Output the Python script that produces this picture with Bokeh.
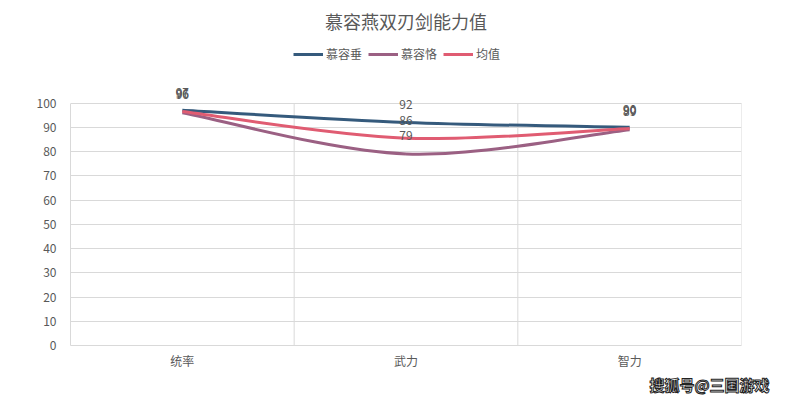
from bokeh.plotting import figure
from bokeh.models import Legend, LegendItem, FixedTicker, Range1d, Title, ColumnDataSource
from bokeh.core.properties import value
from bokeh.embed import file_html
from bokeh.resources import INLINE

categories = ["统率", "武力", "智力"]
series_names = ["慕容垂", "慕容恪", "均值"]
murong_chui = [97, 92, 90]
murong_ke = [96, 79, 89]
average = [96.5, 85.5, 89.5]
avg_labels = ["96", "86", "90"]
y_ticks = [0, 10, 20, 30, 40, 50, 60, 70, 80, 90, 100]

colors = ["#355a7c", "#9b6083", "#e05c72"]
FONT = "Noto Sans CJK SC"
GREY = "#595959"
LINE = "#d9d9d9"

xs = list(range(len(categories)))
y_max = max(y_ticks)

p = figure(width=785, height=399, output_backend="svg", toolbar_location=None,
           x_range=Range1d(-0.5, len(categories) - 0.5), y_range=Range1d(0, y_max * 1.266),
           min_border_left=70, min_border_right=44, min_border_bottom=54, min_border_top=36)

p.title.text = "慕容燕双刃剑能力值"
p.title.align = "center"
p.title.text_font = FONT
p.title.text_font_size = "18px"
p.title.text_font_style = "normal"
p.title.text_color = GREY

p.outline_line_color = None
p.background_fill_color = "white"
p.border_fill_color = "white"

p.xaxis.ticker = FixedTicker(ticks=xs)
p.xaxis.major_label_overrides = {i: c for i, c in enumerate(categories)}
p.yaxis.ticker = FixedTicker(ticks=y_ticks)
p.yaxis.bounds = (0, y_max)
for ax in (p.xaxis, p.yaxis):
    ax.axis_line_color = LINE
    ax.major_tick_line_color = None
    ax.minor_tick_line_color = None
    ax.major_label_text_font = FONT
    ax.major_label_text_font_size = "12px"
    ax.major_label_text_color = GREY
p.xaxis.major_label_standoff = 0
p.yaxis.major_label_standoff = 8

p.xgrid.grid_line_color = None
p.ygrid.ticker = FixedTicker(ticks=y_ticks)
p.ygrid.grid_line_color = LINE

# category boundary lines (vertical gridlines limited to the value range)
bounds_x = [i + 0.5 for i in xs]
p.segment(x0=bounds_x, x1=bounds_x, y0=[0] * len(bounds_x), y1=[y_max] * len(bounds_x),
          line_color=LINE, line_width=1)


def bezier_segments(x, y):
    n = len(x)
    px = [x[0]] + list(x) + [x[-1]]
    py = [y[0]] + list(y) + [y[-1]]
    d = dict(x0=[], y0=[], x1=[], y1=[], cx0=[], cy0=[], cx1=[], cy1=[])
    for i in range(n - 1):
        a, b, c, e = i, i + 1, i + 2, i + 3
        d["x0"].append(px[b]); d["y0"].append(py[b])
        d["x1"].append(px[c]); d["y1"].append(py[c])
        d["cx0"].append(px[b] + (px[c] - px[a]) / 6)
        d["cy0"].append(py[b] + (py[c] - py[a]) / 6)
        d["cx1"].append(px[c] - (px[e] - px[b]) / 6)
        d["cy1"].append(py[c] - (py[e] - py[b]) / 6)
    return ColumnDataSource(d)


items = []
all_series = [murong_chui, murong_ke, average]
label_texts = [[str(v) for v in murong_chui], [str(v) for v in murong_ke], avg_labels]
for name, vals, col in zip(series_names, all_series, colors):
    src = bezier_segments(xs, vals)
    r = p.bezier(x0="x0", y0="y0", x1="x1", y1="y1", cx0="cx0", cy0="cy0",
                 cx1="cx1", cy1="cy1", source=src, line_color=col, line_width=3)
    items.append(LegendItem(label=name, renderers=[r]))

for vals, texts in zip(all_series, label_texts):
    p.text(x=xs, y=vals, text=texts, text_align="center", text_baseline="middle",
           y_offset=-18, text_font=value(FONT), text_font_size="12px",
           text_color=GREY)

legend = Legend(items=items, orientation="horizontal", location=(223, 283),
                label_text_font=FONT, label_text_font_size="12px", label_text_color=GREY,
                glyph_width=30, glyph_height=12, label_standoff=3, spacing=6,
                padding=0, margin=0, border_line_color=None, background_fill_alpha=0)
p.add_layout(legend)

wm = Title(text="搜狐号@三国游戏", align="right", offset=-28, standoff=0,
           text_font=FONT, text_font_size="15px", text_font_style="bold",
           text_color="white", text_outline_color="#222222")
p.add_layout(wm, "below")

open("out.html", "w").write(file_html(p, INLINE))
